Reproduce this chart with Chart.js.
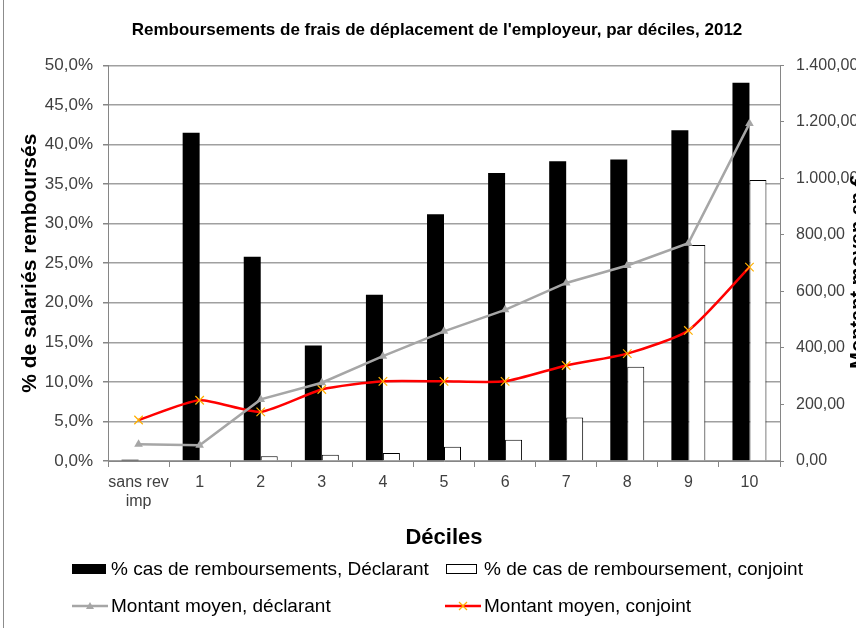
<!DOCTYPE html>
<html lang="fr">
<head>
    <meta charset="UTF-8">
    <title>Remboursements de frais de déplacement de l'employeur</title>
    <script src="https://cdn.jsdelivr.net/npm/chart.js"></script>
    <style>
        body {
            margin: 0;
            padding: 0;
            background: #fff;
            overflow: hidden;
            font-family: 'Liberation Sans', sans-serif;
        }

        .frame {
            position: relative;
            width: 866px;
            height: 628px;
            margin-left: 3px;
            border-left: 1px solid #8c8c8c;
        }

        #chart {
            position: absolute;
            left: 0;
            top: 0;
        }

        /* Legend, Excel style: two rows, two aligned columns */
        .legend-item {
            position: absolute;
            display: flex;
            align-items: center;
            font-size: 19px;
            color: #000;
            white-space: nowrap;
            height: 20px;
        }

        .legend-item svg {
            margin-right: 3px;
        }
    </style>
</head>
<body>

<div class="frame">
    <canvas id="chart" width="866" height="628"></canvas>

    <div class="legend-item" style="left:68px; top:559px;">
        <svg width="36" height="12"><rect x="0" y="1" width="34" height="10" fill="#000"/></svg>% cas de remboursements, Déclarant
    </div>
    <div class="legend-item" style="left:441px; top:559px;">
        <svg width="36" height="12"><rect x="1.5" y="1.5" width="30" height="9" fill="#fff" stroke="#000" stroke-width="1"/></svg>% de cas de remboursement, conjoint
    </div>
    <div class="legend-item" style="left:68px; top:596px;">
        <svg width="36" height="12"><line x1="0" y1="6" x2="36" y2="6" stroke="#a6a6a6" stroke-width="2.5"/><polygon points="18,2 22,9 14,9" fill="#a6a6a6"/></svg>Montant moyen, déclarant
    </div>
    <div class="legend-item" style="left:441px; top:596px;">
        <svg width="36" height="12"><line x1="0" y1="6" x2="36" y2="6" stroke="#ff0000" stroke-width="2.5"/><path d="M14,2 L22,10 M22,2 L14,10" stroke="#ffb000" stroke-width="1.2"/></svg>Montant moyen, conjoint
    </div>
</div>

<script>
    // Categories (déciles)
    const deciles = [['sans rev', 'imp'], '1', '2', '3', '4', '5', '6', '7', '8', '9', '10'];

    // % de salariés remboursés (axe de gauche)
    const pctDeclarant = [0.15, 41.5, 25.8, 14.6, 21.0, 31.2, 36.4, 37.9, 38.1, 41.8, 47.8];
    const pctConjoint = [0.1, 0.1, 0.6, 0.8, 1.0, 1.8, 2.7, 5.5, 11.9, 27.3, 35.5];

    // Montant moyen en € (axe de droite)
    const montantDeclarant = [59, 56, 218, 277, 371, 459, 535, 630, 692, 771, 1194];
    const montantConjoint = [145, 215, 174, 253, 282, 282, 282, 338, 380, 462, 686];

    const FONT = "'Liberation Sans', sans-serif";
    const TICK_COLOR = '#404040';
    const AXIS_COLOR = '#868686';

    const fmtPct = v => v.toFixed(1).replace('.', ',') + '%';
    const fmtEuro = v => v.toLocaleString('de-DE', { minimumFractionDigits: 2, maximumFractionDigits: 2 });

    // Right axis title, rotated like the left one and cut by the window edge
    const rightTitle = {
        id: 'rightTitle',
        afterDraw(chart) {
            const ctx = chart.ctx;
            ctx.save();
            ctx.translate(844, 272);
            ctx.rotate(-Math.PI / 2);
            ctx.font = 'bold 20px ' + FONT;
            ctx.fillStyle = '#000';
            ctx.textAlign = 'center';
            ctx.textBaseline = 'top';
            ctx.fillText('Montant moyen en €', 0, 0);
            ctx.restore();
        }
    };

    new Chart(document.getElementById('chart').getContext('2d'), {
        type: 'bar',
        data: {
            labels: deciles,
            datasets: [
                {
                    type: 'line',
                    label: 'Montant moyen, déclarant',
                    data: montantDeclarant,
                    yAxisID: 'y1',
                    borderColor: '#a6a6a6',
                    backgroundColor: '#a6a6a6',
                    borderWidth: 2.5,
                    pointStyle: 'triangle',
                    pointRadius: 5,
                    pointBorderWidth: 0,
                    tension: 0,
                    order: 0
                },
                {
                    type: 'line',
                    label: 'Montant moyen, conjoint',
                    data: montantConjoint,
                    yAxisID: 'y1',
                    borderColor: '#ff0000',
                    backgroundColor: '#ffb000',
                    pointBorderColor: '#ffb000',
                    borderWidth: 2.5,
                    pointStyle: 'crossRot',
                    pointRadius: 6,
                    pointBorderWidth: 1.2,
                    tension: 0.2,
                    order: 0
                },
                {
                    label: '% cas de remboursements, Déclarant',
                    data: pctDeclarant,
                    yAxisID: 'y',
                    backgroundColor: '#000',
                    borderWidth: 0,
                    categoryPercentage: 0.556,
                    barPercentage: 1,
                    order: 1
                },
                {
                    label: '% de cas de remboursement, conjoint',
                    data: pctConjoint,
                    yAxisID: 'y',
                    backgroundColor: '#fff',
                    borderColor: '#000',
                    borderWidth: 1,
                    categoryPercentage: 0.556,
                    barPercentage: 1,
                    order: 1
                }
            ]
        },
        options: {
            responsive: false,
            animation: false,
            layout: { padding: { left: 0, right: 0, top: 0, bottom: 73 } },
            plugins: {
                legend: { display: false },
                tooltip: { enabled: false },
                title: {
                    display: true,
                    text: "Remboursements de frais de déplacement de l'employeur, par déciles, 2012",
                    color: '#000',
                    font: { family: FONT, size: 17, weight: 'bold' },
                    padding: { top: 20, bottom: 25 }
                }
            },
            scales: {
                x: {
                    offset: true,
                    grid: { offset: true, drawOnChartArea: false, drawTicks: true, tickLength: 6, color: AXIS_COLOR },
                    border: { color: AXIS_COLOR },
                    ticks: { autoSkip: false, color: TICK_COLOR, font: { family: FONT, size: 16 }, padding: 6, maxRotation: 0 },
                    title: {
                        display: true,
                        text: 'Déciles',
                        color: '#000',
                        font: { family: FONT, size: 22, weight: 'bold' },
                        padding: { top: 0, bottom: 4 }
                    },
                    afterFit: s => { s.height = 94; }
                },
                y: {
                    position: 'left',
                    min: 0,
                    max: 50,
                    ticks: { stepSize: 5, callback: v => fmtPct(v), color: TICK_COLOR, font: { family: FONT, size: 17 }, padding: 10 },
                    grid: { color: '#a0a0a0', lineWidth: 1.5, tickLength: 5, tickColor: AXIS_COLOR },
                    border: { color: AXIS_COLOR },
                    title: {
                        display: true,
                        text: '% de salariés remboursés',
                        color: '#000',
                        font: { family: FONT, size: 21, weight: 'bold' },
                        padding: { top: 14, bottom: 0 }
                    },
                    afterFit: s => { s.width = 104; }
                },
                y1: {
                    position: 'right',
                    min: 0,
                    max: 1400,
                    ticks: { stepSize: 200, callback: v => fmtEuro(v), color: TICK_COLOR, font: { family: FONT, size: 16 }, padding: 12 },
                    grid: { drawOnChartArea: false, tickLength: 4, color: AXIS_COLOR },
                    border: { color: AXIS_COLOR },
                    afterFit: s => { s.width = 90; }
                }
            }
        },
        plugins: [rightTitle]
    });
</script>
</body>
</html>
